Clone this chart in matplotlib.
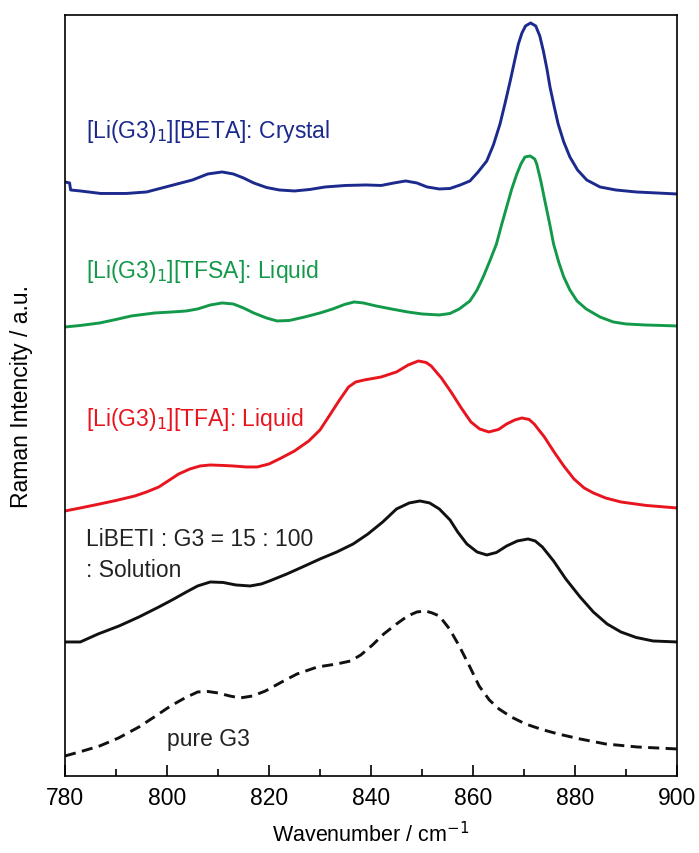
import matplotlib
matplotlib.use("Agg")
import matplotlib.pyplot as plt
from matplotlib.ticker import MultipleLocator

plt.rcParams['font.family'] = ['Liberation Sans', 'DejaVu Sans']

# -----------------------------
# Data (intensity in arbitrary units)
# -----------------------------
beta_x = [780, 780.9, 781.1, 783, 787, 792, 796, 799, 802, 805, 808, 810.8, 813, 815,
          817, 819.5, 822, 825, 828, 831, 835, 839, 842, 844.5, 846.8, 849, 851,
          853.4, 855.5, 857.5, 859.4, 861, 862.7, 864, 865.3, 866.3, 867.3, 868.2,
          868.9, 869.6, 870.3, 871.3, 872.3, 873.1, 873.8, 874.5, 875.1, 875.9,
          876.7, 877.8, 879, 880.5, 882.3, 884.9, 888, 892, 896, 900]
beta_y = [594, 593, 586, 585, 582.5, 582.5, 584, 588, 592, 596, 602, 604, 602, 598,
          593, 588.5, 586, 585, 586.5, 589, 590.5, 591, 590.5, 593, 595, 593, 589,
          587, 587.5, 591, 595, 604, 615, 631, 652, 673, 695, 716,
          732, 743, 750, 753, 750, 740, 725, 707, 689, 670,
          652, 634, 619, 606, 596, 589, 586, 584, 583, 582]

tfsa_x = [780, 783, 786.8, 790, 793, 797.6, 801, 803.8, 806, 808.5, 810.8, 813, 815,
          817, 819.5, 821.6, 824, 827, 830, 832.5, 834.8, 836.7, 838.5, 841, 844,
          847.2, 850, 853.4, 855.5, 857.3, 859.4, 860.8, 862, 863.3, 864.6, 865.6,
          866.6, 867.6, 868.6, 869.4, 870.2, 871.2, 872.1, 872.5, 873.3, 874.1,
          875, 875.8, 876.8, 877.8, 879, 880.4, 882.2, 884.9, 887.5, 890, 893.7,
          897, 900]
tfsa_y = [449, 450.5, 453, 456.5, 460, 463, 464, 465, 467, 471, 473, 472, 468,
          463, 458, 455, 455.5, 459, 463, 467, 471.5, 474, 473, 470, 467,
          464, 462, 461, 462.5, 467, 475, 486, 499, 515, 532, 551,
          569, 587, 602, 612, 619, 620, 617, 612, 595, 575,
          553, 532, 514, 499, 486, 475, 467, 459, 454, 452, 451,
          450.5, 450]

tfa_x = [780, 783, 786.8, 790, 793.7, 796, 798.4, 800.5, 802.3, 804.5, 806.5, 808.5,
         811, 813, 815.5, 817.7, 820, 822.4, 825, 827.8, 830, 831.8, 833.7, 835.6,
         837, 838.7, 842, 845, 847.3, 849.3, 850.8, 851.8, 853.8, 855.7, 857.7,
         859.6, 861.3, 863.1, 865, 866.6, 868.2, 869.6, 871, 872, 874, 875.9,
         877.8, 879.8, 881.8, 883.6, 886, 889, 894, 900]
tfa_y = [265, 268, 272, 275.5, 280, 284, 289, 296, 302, 307, 310, 311,
         310.5, 310, 309, 309, 312, 318, 325, 335, 346, 360, 375, 389,
         394, 396, 399, 404, 411, 415, 413.5, 410, 398, 384, 368,
         354, 347, 344, 346.5, 352, 356, 358, 356.5, 352, 339, 324,
         310, 297, 288, 283, 278, 274, 270.5, 268]

sol_x = [780, 783, 786.5, 790.6, 794.5, 798.4, 801, 803.8, 806, 808.5, 811, 813.5,
         816.3, 818.5, 820.1, 823.5, 827, 830, 833.3, 836.5, 839.4, 842.3, 845,
         847.5, 849.6, 851.5, 853.4, 855.5, 857, 858.8, 860.8, 862.7, 864.6,
         866.6, 868.7, 870.8, 872.2, 873.6, 875.8, 878.2, 881, 883.6, 886.3, 889,
         892, 895.3, 900]
sol_y = [134, 134, 142, 150, 159, 169, 176, 184, 190, 194, 193.5, 191,
         190, 192, 195, 202, 210, 217, 224, 232, 242, 254, 267,
         273, 275, 273, 267, 256, 244, 232, 224, 221, 223.5,
         230, 235, 237, 235, 229, 215, 197, 179, 164, 152, 144,
         138.5, 135, 134]

g3_x = [780, 783.5, 786.8, 790.5, 794.5, 797.8, 800.7, 803.5, 806, 808, 810, 812.3,
        814.3, 816.8, 819.3, 822.5, 825.5, 829.5, 833.3, 836, 838, 840.3, 842.5,
        845, 847.2, 849, 850.7, 852, 853.4, 855.4, 857.3, 859.3, 861.2, 863.2,
        865.1, 867.5, 870.3, 873.5, 876.7, 881, 886, 892.2, 900]
g3_y = [20, 25, 30, 38, 49, 60, 70, 78, 84, 84.5, 83, 80,
        78, 80, 85, 94, 102, 109, 112, 115, 121, 131, 142,
        152, 160, 164, 165, 163, 160, 147, 130, 110, 90, 76,
        67, 59, 52, 46.5, 42, 37, 32, 29, 27]

# -----------------------------
# Plot
# -----------------------------
fig = plt.figure(figsize=(6.99, 8.54), dpi=100)
ax = fig.add_axes([0.093, 0.0902, 0.8755, 0.8911])

lw = 2.1
ax.plot(beta_x, beta_y, color='#1b2a8c', lw=lw, solid_joinstyle='round')
ax.plot(tfsa_x, tfsa_y, color='#13994a', lw=lw, solid_joinstyle='round')
ax.plot(tfa_x, tfa_y, color='#e8151e', lw=lw, solid_joinstyle='round')
ax.plot(sol_x, sol_y, color='#111111', lw=lw, solid_joinstyle='round')
ax.plot(g3_x, g3_y, color='#111111', lw=lw, linestyle=(0, (3.8, 2.2)))

fs = 16.5
ax.text(784.2, 645, '[Li(G3)$_1$][BETA]: Crystal', color='#1b2a8c', fontsize=fs, va='center')
ax.text(784.2, 505, '[Li(G3)$_1$][TFSA]: Liquid', color='#13994a', fontsize=fs, va='center')
ax.text(784.2, 357, '[Li(G3)$_1$][TFA]: Liquid', color='#e8151e', fontsize=fs, va='center')
ax.text(784.2, 237, 'LiBETI : G3 = 15 : 100', color='#222222', fontsize=fs, va='center')
ax.text(784.2, 206, ': Solution', color='#222222', fontsize=fs, va='center')
ax.text(800, 37, 'pure G3', color='#222222', fontsize=fs, va='center')

ax.set_xlim(780, 900)
ax.set_ylim(0, 761)
ax.xaxis.set_major_locator(MultipleLocator(20))
ax.xaxis.set_minor_locator(MultipleLocator(10))
ax.tick_params(axis='x', which='major', direction='in', length=8, width=1.2,
               labelsize=16.5, pad=7, top=False)
ax.tick_params(axis='x', which='minor', direction='in', length=5, width=1.2, top=False)
ax.set_yticks([])
for s in ax.spines.values():
    s.set_linewidth(1.2)

ax.set_xlabel('Wavenumber / cm$^{-1}$', fontsize=15.5, va='center')
ax.xaxis.set_label_coords(0.5, -0.076)
ax.set_ylabel('Raman Intencity / a.u.', fontsize=16.5, va='center')
ax.yaxis.set_label_coords(-0.071, 0.5)

fig.savefig('out.png', dpi=100)
